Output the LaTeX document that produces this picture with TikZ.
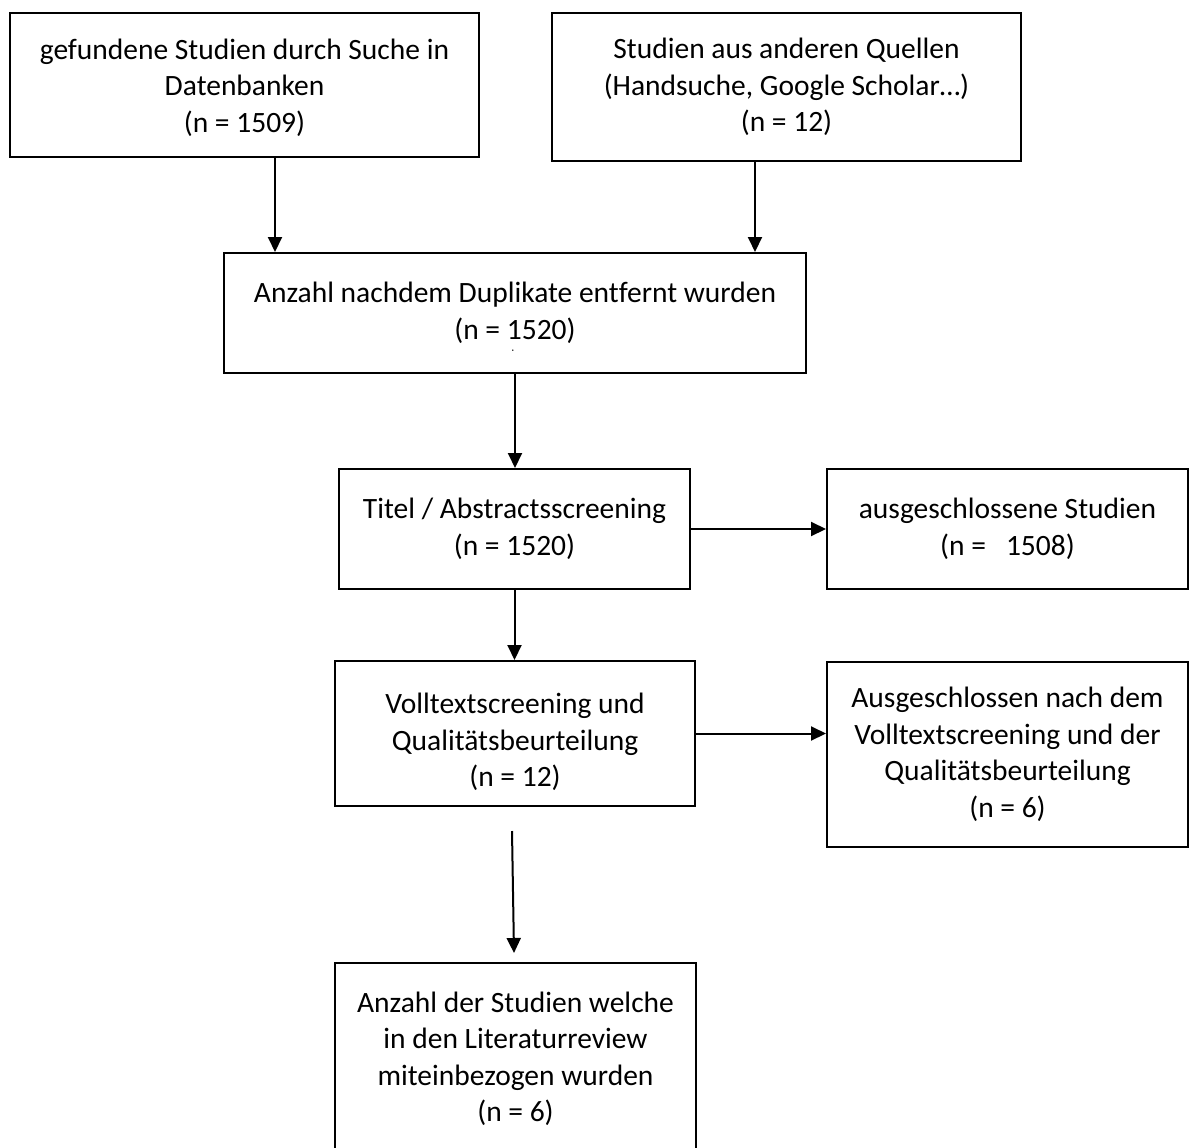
\documentclass[tikz,border=0pt]{standalone}
\usepackage{fontspec}
\setmainfont[Ligatures=NoCommon]{Carlito}
\usetikzlibrary{arrows.meta}
\begin{document}
\begin{tikzpicture}[x=1pt,y=-1pt,
  box/.style={draw, line width=2pt, rectangle, inner sep=0pt, align=center,
              font=\fontsize{29.5}{36.5}\selectfont},
  arr/.style={line width=2pt, -{Triangle[width=14pt,length=15pt]}}]
\useasboundingbox (0,0) rectangle (1191,1148);
\fill[white] (0,0) rectangle (1191,1148);
\clip (0,0) rectangle (1191,1148);

\node[box, minimum width=469pt, minimum height=144pt] (b1) at (244.5,85)
  {\rule{0pt}{26pt}gefundene Studien durch Suche in\\Datenbanken\\(n = 1509)};
\node[box, minimum width=469pt, minimum height=148pt] (b2) at (786.5,87)
  {Studien aus anderen Quellen\\(Handsuche, Google Scholar…)\\(n = 12)};
\node[box, minimum width=582pt, minimum height=120pt] (b3) at (515,313)
  {Anzahl nachdem Duplikate entfernt wurden\\(n = 1520)};
\node[font=\fontsize{10}{12}\selectfont, inner sep=0pt] (dot) at (513,352) {·};
\node[box, minimum width=351pt, minimum height=120pt] (b4) at (514.5,529)
  {Titel / Abstractsscreening\\(n = 1520)};
\node[box, minimum width=361pt, minimum height=120pt] (b5) at (1007.5,529)
  {ausgeschlossene Studien\\(n =\ \ \ 1508)};
\node[box, minimum width=360pt, minimum height=145pt] (b6) at (515,733.5)
  {\rule{0pt}{38pt}Volltextscreening und\\Qualitätsbeurteilung\\(n = 12)};
\node[box, minimum width=361pt, minimum height=185pt] (b7) at (1007.5,754.5)
  {Ausgeschlossen nach dem\\Volltextscreening und der\\Qualitätsbeurteilung\\(n = 6)};
\node[box, minimum width=361pt, minimum height=192pt] (b8) at (515.5,1059)
  {Anzahl der Studien welche\\in den Literaturreview\\miteinbezogen wurden\\(n = 6)};

\coordinate (s8) at (512,831);

\draw[arr] ([xshift=30.5pt]b1.south) -- ([xshift=30.5pt]b1.south |- b3.north);
\draw[arr] ([xshift=-31.5pt]b2.south) -- ([xshift=-31.5pt]b2.south |- b3.north);
\draw[arr] (b3.south) -- (b3.south |- b4.north);
\draw[arr] (b4.east) -- (b5.west);
\draw[arr] (b4.south) -- (b4.south |- b6.north);
\draw[arr] (b6.east) -- (b6.east -| b7.west);
\draw[arr] (s8) -- ([xshift=-1.5pt,yshift=9pt]b8.north);
\end{tikzpicture}
\end{document}
